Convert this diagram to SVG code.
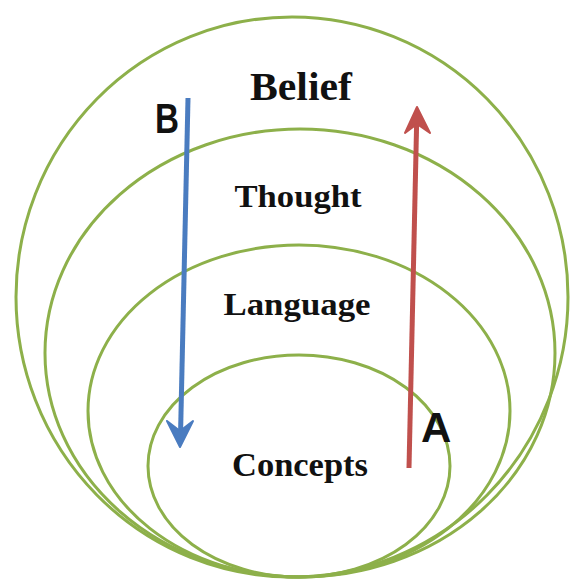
<svg xmlns="http://www.w3.org/2000/svg" width="577" height="580" viewBox="0 0 577 580">
<style>
.ring{fill:none;stroke:#8db04a;stroke-width:3}
.lbl{font-family:"Liberation Serif","Times New Roman",serif;font-weight:bold;fill:#111;text-anchor:middle}
.let{font-family:"Liberation Sans",Arial,sans-serif;font-weight:bold;fill:#111}
</style>
<rect width="577" height="580" fill="#fff"/>
<g id="belief">
<ellipse class="ring" cx="292" cy="297" rx="276" ry="280"/>
<text class="lbl" x="301" y="100" font-size="40" textLength="102" lengthAdjust="spacingAndGlyphs">Belief</text>
</g>
<g id="thought">
<ellipse class="ring" cx="300" cy="353" rx="255" ry="224"/>
<text class="lbl" x="298" y="207" font-size="32" textLength="127" lengthAdjust="spacingAndGlyphs">Thought</text>
</g>
<g id="language">
<ellipse class="ring" cx="299" cy="411" rx="211" ry="166"/>
<text class="lbl" x="297" y="315" font-size="31" textLength="147" lengthAdjust="spacingAndGlyphs">Language</text>
</g>
<g id="concepts">
<ellipse class="ring" cx="299" cy="466" rx="151" ry="111"/>
<text class="lbl" x="300" y="476" font-size="33" textLength="136" lengthAdjust="spacingAndGlyphs">Concepts</text>
</g>
<g id="connectors">
<line x1="188" y1="98" x2="180.5" y2="436" stroke="#4a7cc0" stroke-width="5"/>
<path d="M180,447 L167,421 L180,431 L193,421 Z" fill="#4a7cc0" stroke="#4a7cc0" stroke-width="2" stroke-linejoin="round"/>
<line x1="409" y1="468" x2="416.7" y2="120" stroke="#c0504d" stroke-width="5"/>
<path d="M417,107 L430,133 L417,124 L405,133 Z" fill="#c0504d" stroke="#c0504d" stroke-width="2" stroke-linejoin="round"/>
</g>
<g id="label-B"><text class="let" x="155" y="133" font-size="42" textLength="24" lengthAdjust="spacingAndGlyphs">B</text></g>
<g id="label-A"><text class="let" x="421" y="442" font-size="42">A</text></g>
</svg>
